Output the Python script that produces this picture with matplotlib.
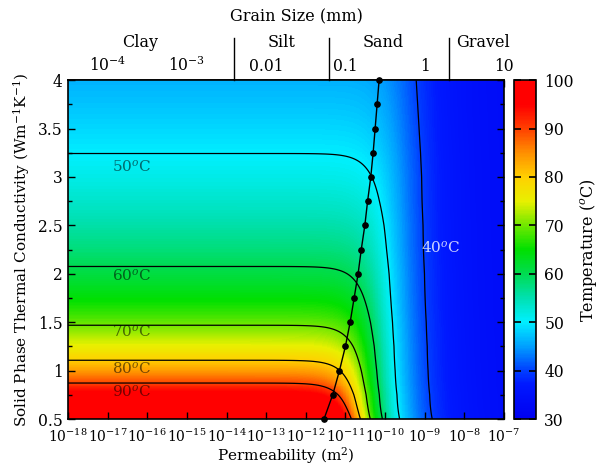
import numpy as np
import matplotlib
matplotlib.use('Agg')
import matplotlib.pyplot as plt
from matplotlib.colors import LinearSegmentedColormap
from matplotlib.ticker import NullLocator, FixedLocator

plt.rcParams['font.family'] = 'DejaVu Serif'
plt.rcParams['mathtext.fontset'] = 'dejavuserif'
plt.rcParams['font.size'] = 11.2

# isotherms and the conductivity where each one runs flat (conduction only)
levels = [50, 60, 70, 80, 90]
plateau_lam = [3.23, 2.07, 1.48, 1.12, 0.86]

# onset line with dots (conductivity vs log10 permeability)
onset_lam = [0.5, 0.75, 1.0, 1.25, 1.5, 1.75, 2.0, 2.25, 2.5, 2.75, 3.0, 3.25, 3.5, 3.75, 4.0]
onset_logk = [-11.54, -11.32, -11.15, -11.00, -10.88, -10.78, -10.68, -10.60,
              -10.51, -10.44, -10.36, -10.30, -10.25, -10.20, -10.15]

# convective regime: surface temperature, decay exponent, corner sharpness, offset
T_surface = 33.0
decay = 0.47
sharp = 3.0
shift = 0.4

# grain size axis (mm), k = 1e-9 * d^2
grain_ticks = [1e-4, 1e-3, 0.01, 0.1, 1, 10]
grain_labels = ['10$^{-4}$', '10$^{-3}$', '0.01', '0.1', '1', '10']
class_bounds = [0.0039, 0.0625, 2.0]
class_names = ['Clay', 'Silt', 'Sand', 'Gravel']
class_pos = [2.6e-4, 0.0158, 0.30, 5.4]

label_levels = ['50', '60', '70', '80', '90']
label_lam = [3.11, 1.98, 1.40, 1.02, 0.78]


def k2d(k):
    return np.sqrt(np.asarray(k) / 1e-9)


def d2k(d):
    return 1e-9 * np.asarray(d) ** 2


# temperature field
lam = np.linspace(0.5, 4.0, 350)
logk = np.linspace(-18, -7, 600)
LK, LAM = np.meshgrid(logk, lam)
p, c = np.polyfit(np.log(plateau_lam), np.log(np.array(levels) - 20.0), 1)
Tc = 20.0 + np.exp(c) * LAM ** p
u = LK - np.interp(LAM, onset_lam, onset_logk) - shift
s = (1.0 + 10.0 ** (sharp * decay * u)) ** (-1.0 / sharp)
T = T_surface + (Tc - T_surface) * s

cmap = LinearSegmentedColormap.from_list('temp', [
    (0.0, '#0000f0'), (7 / 70, '#0018ff'), (10 / 70, '#0040ff'),
    (15 / 70, '#00a0ff'), (20 / 70, '#00f0ff'), (25 / 70, '#00e0b0'),
    (30 / 70, '#00dc50'), (35 / 70, '#00e000'), (40 / 70, '#70e800'),
    (45 / 70, '#e8f000'), (50 / 70, '#ffd000'), (55 / 70, '#ff9000'),
    (60 / 70, '#ff4000'), (65 / 70, '#ff0000'), (1.0, '#ff0000')])

fig = plt.figure(figsize=(5.98, 4.68), dpi=100)
ax = fig.add_axes([0.1137, 0.1047, 0.729, 0.724])
mesh = ax.pcolormesh(10.0 ** logk, lam, T, cmap=cmap, vmin=30, vmax=100,
                     shading='auto', rasterized=True)
ax.contour(10.0 ** LK, LAM, T, levels=[40] + levels, colors='k', linewidths=0.9)
ax.plot(10.0 ** np.array(onset_logk), onset_lam, 'k-', lw=1.0, marker='o',
        ms=3.8, clip_on=False, zorder=5)

ax.set_xscale('log')
ax.set_xlim(1e-18, 1e-7)
ax.set_ylim(0.5, 4.0)
ax.xaxis.set_major_locator(FixedLocator([10.0 ** e for e in range(-18, -6)]))
ax.xaxis.set_minor_locator(NullLocator())
ax.set_xticklabels(['10$^{%d}$' % e for e in range(-18, -6)])
ax.set_yticks([0.5, 1, 1.5, 2, 2.5, 3, 3.5, 4])
ax.set_yticklabels(['0.5', '1', '1.5', '2', '2.5', '3', '3.5', '4'])
ax.set_yticks(np.arange(0.75, 4.0, 0.5), minor=True)
ax.tick_params(which='both', direction='in', top=False, right=True, width=1)
ax.tick_params(which='major', length=5)
ax.tick_params(which='minor', length=3)
ax.tick_params(axis='x', pad=6, labelsize=10)
ax.tick_params(axis='y', pad=4)
for sp in ax.spines.values():
    sp.set_linewidth(1.2)
ax.set_xlabel('Permeability (m$^2$)', labelpad=0, fontsize=11)
ax.set_ylabel('Solid Phase Thermal Conductivity (Wm$^{-1}$K$^{-1}$)',
              labelpad=4, fontsize=11)

for lv, ly in zip(label_levels, label_lam):
    ax.text(10 ** -16.4, ly, lv + '$^o$C', ha='center', va='center',
            color='k', alpha=0.55, fontsize=11)
ax.text(10 ** -8.6, 2.27, '40$^o$C', ha='center', va='center',
        color='white', alpha=0.8, fontsize=11)

# grain size on top
sec = ax.secondary_xaxis('top', functions=(k2d, d2k))
sec.set_xticks(grain_ticks)
sec.set_xticklabels(grain_labels)
sec.xaxis.set_minor_locator(NullLocator())
sec.tick_params(direction='in', length=5, width=1, pad=4)
sec.spines['top'].set_linewidth(1.2)

trans = ax.get_xaxis_transform()
for b in class_bounds:
    ax.plot([d2k(b), d2k(b)], [1.0, 1.125], color='k', lw=1.0,
            transform=trans, clip_on=False)
for name, cx in zip(class_names, class_pos):
    ax.text(d2k(cx), 1.11, name, ha='center', va='center', transform=trans,
            fontsize=11.5)
ax.text(10 ** -12.24, 1.187, 'Grain Size (mm)', ha='center', va='center',
        transform=trans, fontsize=11.5)

cax = fig.add_axes([0.8595, 0.1047, 0.0368, 0.724])
cb = fig.colorbar(mesh, cax=cax)
cb.set_ticks([30, 40, 50, 60, 70, 80, 90, 100])
cb.ax.tick_params(direction='in', length=5, width=1.2, left=True, right=True,
                  pad=6)
cb.outline.set_linewidth(1.2)
cb.set_label('Temperature ($^o$C)', labelpad=3, fontsize=11.5)

fig.savefig('out.png', dpi=100)
